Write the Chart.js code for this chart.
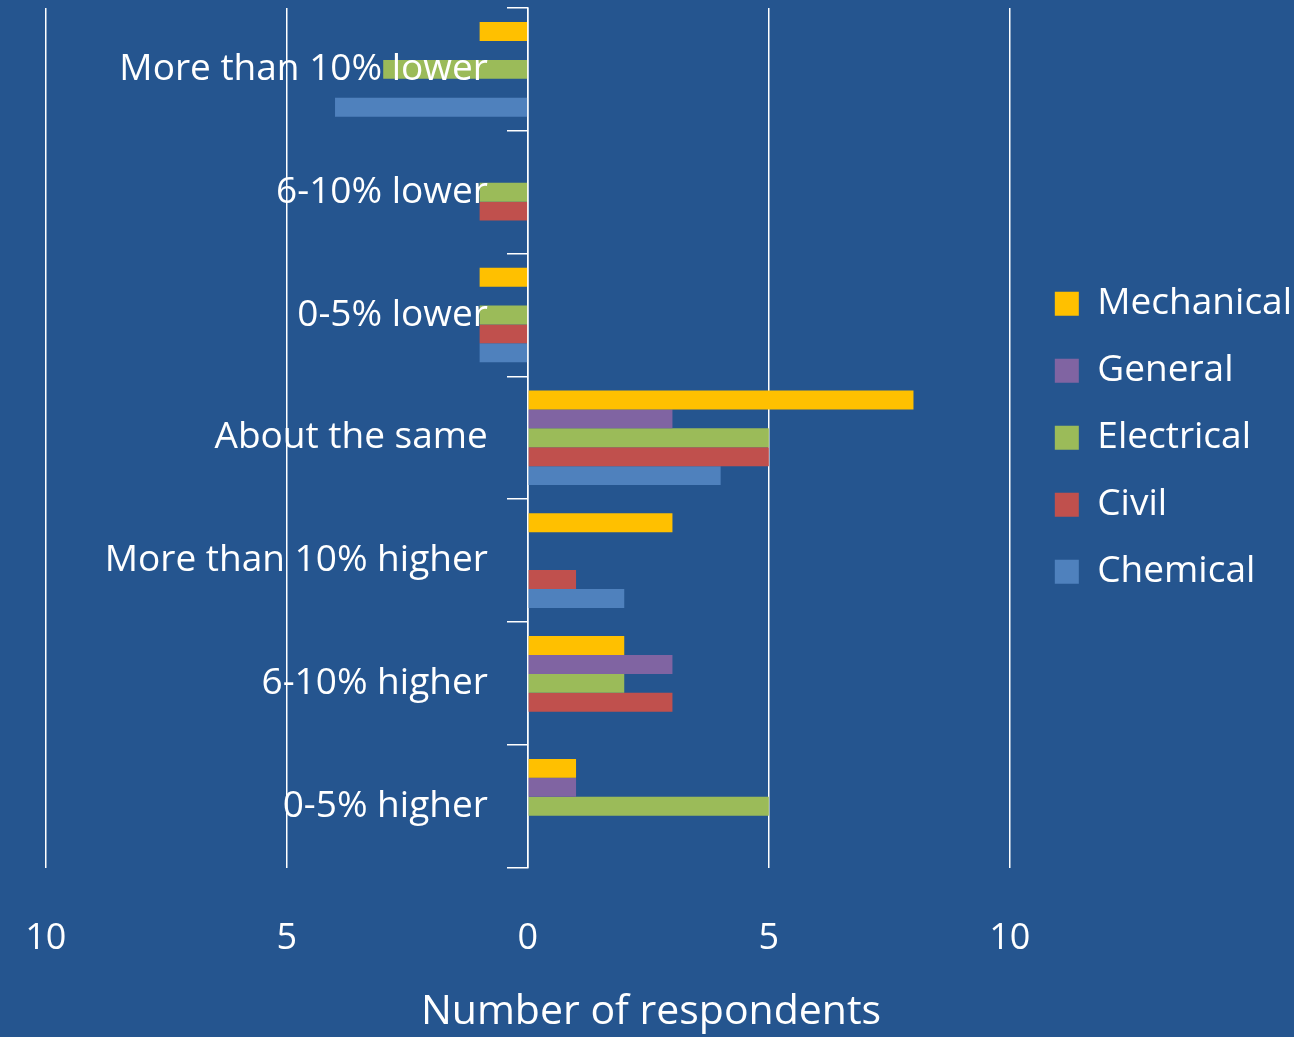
<!DOCTYPE html>
<html lang="en">
<head>
  <meta charset="utf-8"/>
  <title>Number of respondents</title>
  <script src="https://cdn.jsdelivr.net/npm/chart.js"></script>
  <style>
    body{margin:0;background:#25558f}
    #chart{display:block;background:#25558f}
  </style>
</head>
<body>
<canvas id="chart" width="1294" height="1037"></canvas>
<script>
const categories=['More than 10% lower','6-10% lower','0-5% lower','About the same','More than 10% higher','6-10% higher','0-5% higher'];
// negative = counted to the left of zero
const mechanical=[-1,0,-1,8,3,2,1];
const general=[0,0,0,3,0,3,1];
const electrical=[-3,-1,-1,5,0,2,5];
const civil=[0,-1,-1,5,1,3,0];
const chemical=[-4,0,-1,4,2,0,0];
const xTicks=[-10,-5,0,5,10];

const FONT='"Open Sans", sans-serif';
const series=[
  ['Mechanical',mechanical,'#ffc000'],
  ['General',general,'#8064a2'],
  ['Electrical',electrical,'#9bbb59'],
  ['Civil',civil,'#c0504d'],
  ['Chemical',chemical,'#4f81bd']
];

new Chart(document.getElementById('chart'),{
  type:'bar',
  data:{
    labels:categories,
    datasets:series.map(([name,vals,col])=>({
      label:name,data:vals,backgroundColor:col,borderWidth:0,
      barPercentage:1,categoryPercentage:0.77
    }))
  },
  options:{
    indexAxis:'y',
    responsive:false,
    animation:false,
    layout:{padding:{left:0,top:8,right:-8,bottom:0}},
    scales:{
      x:{
        // a little empty room either side of the -10 / 10 grid lines
        min:-10.95,max:10.31,
        afterBuildTicks:s=>{s.ticks=xTicks.map(v=>({value:v}));},
        grid:{color:'#ffffff',lineWidth:1.5,drawTicks:true,tickLength:50,tickColor:'rgba(0,0,0,0)'},
        border:{display:false},
        ticks:{color:'#ffffff',padding:0,font:{family:FONT,size:36},callback:v=>Math.abs(v)}
      },
      y:{
        position:{x:0},
        grid:{display:true,offset:true,drawOnChartArea:false,drawTicks:true,tickLength:20,color:'#ffffff',lineWidth:1.5},
        border:{display:true,color:'#ffffff',width:1.5},
        ticks:{display:false}
      },
      // category names sit a little left of the zero line, over the bars
      yLabels:{
        type:'category',axis:'y',labels:categories,offset:true,
        position:{x:-0.83},
        grid:{display:false},border:{display:false},
        ticks:{z:1,color:'#ffffff',padding:0,autoSkip:false,font:{family:FONT,size:37,lineHeight:0.3}}
      }
    },
    plugins:{
      legend:{
        position:'right',fullSize:false,maxWidth:300,
        labels:{color:'#ffffff',boxWidth:24,boxHeight:24,padding:30,font:{family:FONT,size:37}}
      },
      title:{
        display:true,position:'bottom',text:'Number of respondents',color:'#ffffff',
        font:{family:FONT,size:41,weight:'normal'},padding:{top:27,bottom:0}
      },
      tooltip:{enabled:false}
    }
  }
});
</script>
</body>
</html>
